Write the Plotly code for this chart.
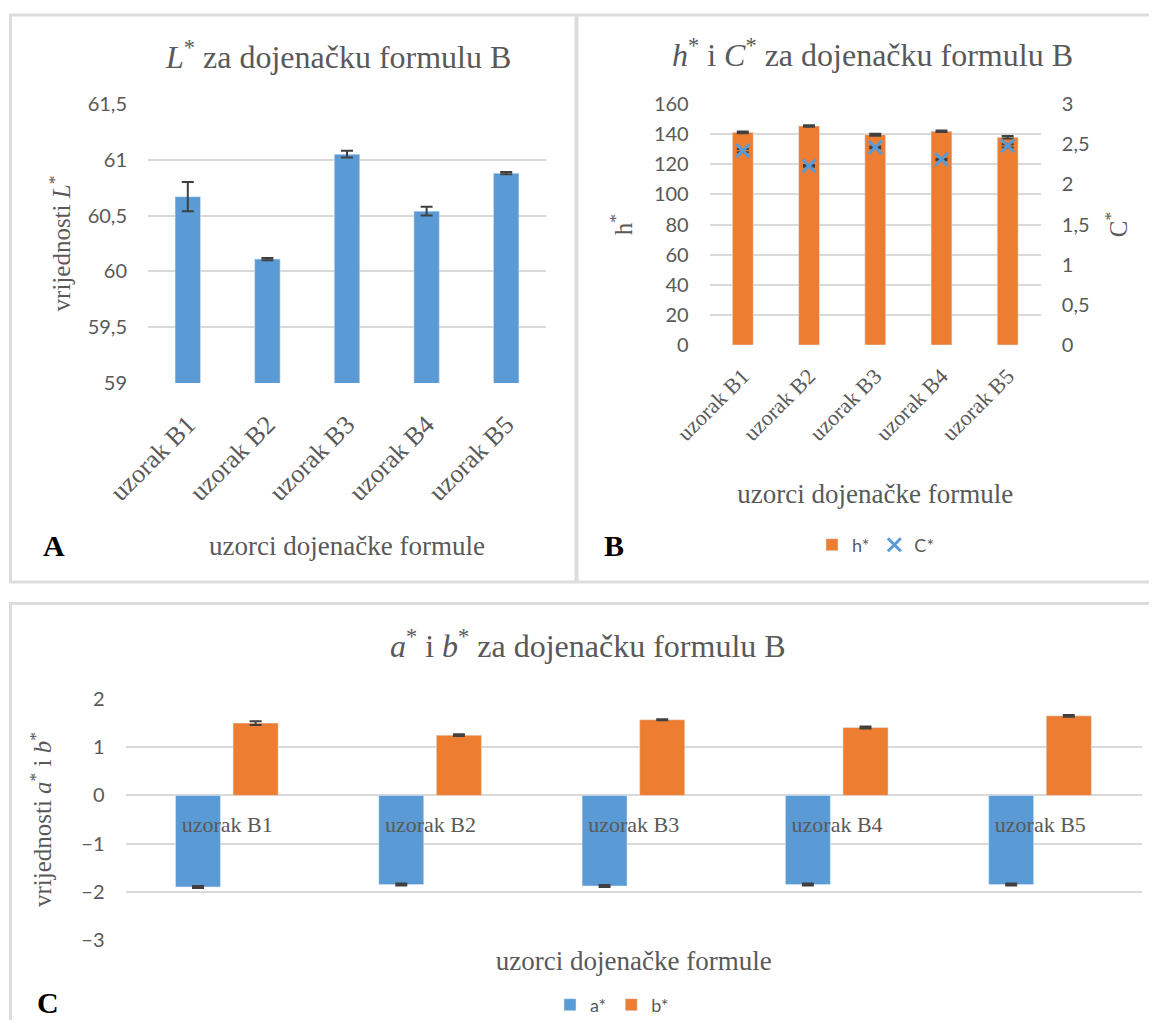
import plotly.graph_objects as go

# Page body has an 8px margin, so the figure is sized to fit inside the window
OFF = 8
W, H = 1157 - 2 * OFF, 1028 - 2 * OFF

samples = ["uzorak B1", "uzorak B2", "uzorak B3", "uzorak B4", "uzorak B5"]

L_vals = [60.67, 60.11, 61.05, 60.54, 60.88]
L_err = [0.13, 0.01, 0.03, 0.04, 0.01]

h_vals = [141.2, 145.4, 139.6, 141.9, 137.9]
h_err = [0.6, 0.5, 0.6, 0.5, 0.8]
C_vals = [2.42, 2.23, 2.46, 2.31, 2.48]
C_err = [0.02, 0.01, 0.01, 0.01, 0.02]

a_vals = [-1.90, -1.85, -1.88, -1.85, -1.85]
a_err = [0.02, 0.02, 0.02, 0.02, 0.02]
b_vals = [1.50, 1.25, 1.57, 1.41, 1.65]
b_err = [0.04, 0.02, 0.01, 0.02, 0.02]

BLUE = "#5b9bd5"
ORANGE = "#ed7d31"
GRID = "#d9d9d9"
TXT = "#595959"
SERIF = "Liberation Serif"
SANS = "Lato"

def px(x):
    return (x - OFF) / W

def py(y):
    return 1 - (y - OFF) / H

def err(arr):
    return dict(type="data", array=arr, visible=True, color="#404040", thickness=2, width=6)

fig = go.Figure()

fig.add_trace(go.Bar(x=samples, y=L_vals, error_y=err(L_err), marker_color=BLUE,
                     width=0.32, xaxis="x", yaxis="y", showlegend=False, name="L*"))

fig.add_trace(go.Bar(x=samples, y=h_vals, error_y=err(h_err), marker_color=ORANGE,
                     width=0.315, xaxis="x2", yaxis="y2", name="h*", legend="legend"))
fig.add_trace(go.Scatter(x=samples, y=C_vals, mode="markers", error_y=err(C_err),
                         marker=dict(symbol="x-thin", size=13, color=BLUE,
                                     line=dict(width=3, color=BLUE)),
                         xaxis="x2", yaxis="y3", name="C*", legend="legend"))

fig.add_trace(go.Bar(x=samples, y=a_vals, error_y=err(a_err), marker_color=BLUE,
                     width=0.221, offset=-0.254, xaxis="x3", yaxis="y4", name="a*", legend="legend2"))
fig.add_trace(go.Bar(x=samples, y=b_vals, error_y=err(b_err), marker_color=ORANGE,
                     width=0.222, offset=0.029, xaxis="x3", yaxis="y4", name="b*", legend="legend2"))

tick_sans = dict(family=SANS, size=20, color=TXT)
yC_dom = [py(940), py(699)]
yC_zero = yC_dom[0] + (0 - (-3)) / 5 * (yC_dom[1] - yC_dom[0])

common_y = dict(gridcolor=GRID, gridwidth=1.5, zeroline=False, showline=False,
                tickfont=tick_sans, ticklabelstandoff=20, automargin=False)
common_x = dict(showgrid=False, showline=False, zeroline=False, automargin=False)
xtitle_font = dict(family=SERIF, size=27, color=TXT)
ytitle_font = dict(family=SERIF, size=25, color=TXT)

fig.update_layout(
    width=W, height=H,
    margin=dict(l=0, r=0, t=0, b=0, autoexpand=False),
    paper_bgcolor="white", plot_bgcolor="white",
    separators=", ",
    barmode="overlay",
    xaxis=dict(domain=[px(148), px(546)], anchor="y", tickangle=-45,
               tickfont=dict(family=SERIF, size=26, color=TXT), ticklabelstandoff=20,
               title=dict(text="uzorci dojenačke formule", font=xtitle_font, standoff=30),
               **common_x),
    yaxis=dict(domain=[py(383), py(104)], anchor="x", range=[59, 61.5], dtick=0.5,
               title=dict(text="vrijednosti <i>L</i><sup>*</sup>", font=ytitle_font, standoff=9),
               **common_y),
    xaxis2=dict(domain=[px(709.7), px(1040.8)], anchor="y2", tickangle=-45,
                tickfont=dict(family=SERIF, size=22, color=TXT), ticklabelstandoff=13,
                title=dict(text="uzorci dojenačke formule", font=xtitle_font, standoff=39),
                **common_x),
    yaxis2=dict(domain=[py(345), py(104)], anchor="x2", range=[0, 160], dtick=20,
                title=dict(text="h<sup>*</sup>", font=ytitle_font, standoff=14),
                **common_y),
    yaxis3=dict(overlaying="y2", side="right", anchor="x2", range=[0, 3], dtick=0.5,
                showgrid=False, zeroline=False, showline=False, tickfont=tick_sans,
                ticklabelstandoff=20, automargin=False,
                title=dict(text="C<sup>*</sup>", font=ytitle_font, standoff=20)),
    xaxis3=dict(domain=[px(125.5), px(1142)], anchor="free", position=yC_zero,
                tickfont=dict(family=SERIF, size=22, color=TXT), ticklabelstandoff=14,
                title=dict(text="uzorci dojenačke formule", font=xtitle_font, standoff=114),
                **common_x),
    yaxis4=dict(domain=yC_dom, anchor="x3", range=[-3, 2], dtick=1,
                title=dict(text="vrijednosti <i>a</i><sup>*</sup> i <i>b</i><sup>*</sup>",
                           font=ytitle_font, standoff=22),
                **common_y),
    legend=dict(orientation="h", x=px(876), y=py(545), xanchor="center", yanchor="middle",
                itemwidth=30, font=dict(family=SANS, size=18, color=TXT), bgcolor="rgba(0,0,0,0)"),
    legend2=dict(orientation="h", x=px(612), y=py(1005), xanchor="center", yanchor="middle",
                 itemwidth=30, font=dict(family=SANS, size=18, color=TXT), bgcolor="rgba(0,0,0,0)"),
)

annotations = [
    dict(text="<i>L</i><sup>*</sup> za dojenačku formulu B", x=px(338), y=py(55)),
    dict(text="<i>h</i><sup>*</sup> i <i>C</i><sup>*</sup> za dojenačku formulu B", x=px(872), y=py(53)),
    dict(text="<i>a</i><sup>*</sup> i <i>b</i><sup>*</sup> za dojenačku formulu B", x=px(588), y=py(644)),
]
for a in annotations:
    a.update(xref="paper", yref="paper", showarrow=False, xanchor="center", yanchor="middle",
             font=dict(family=SERIF, size=32, color=TXT))
for lab, x, y in [("A", 54, 545), ("B", 614, 545), ("C", 48, 1002)]:
    annotations.append(dict(text=f"<b>{lab}</b>", x=px(x), y=py(y), xref="paper", yref="paper",
                            showarrow=False, xanchor="center", yanchor="middle",
                            font=dict(family=SERIF, size=30, color="black")))
fig.update_layout(annotations=annotations)

line = dict(color="#dcdcdc", width=3)
shapes = [
    dict(type="line", x0=px(9), x1=1, y0=py(15), y1=py(15), line=line),
    dict(type="line", x0=px(10.5), x1=px(10.5), y0=py(15), y1=py(582), line=line),
    dict(type="line", x0=px(9), x1=1, y0=py(582), y1=py(582), line=line),
    dict(type="line", x0=px(576.5), x1=px(576.5), y0=py(15), y1=py(582), line=dict(color="#dcdcdc", width=4)),
    dict(type="line", x0=px(9), x1=1, y0=py(603.5), y1=py(603.5), line=line),
    dict(type="line", x0=px(10.5), x1=px(10.5), y0=py(603.5), y1=0, line=line),
]
for s in shapes:
    s.update(xref="paper", yref="paper", layer="below")
fig.update_layout(shapes=shapes)

fig.write_html("out.html")
